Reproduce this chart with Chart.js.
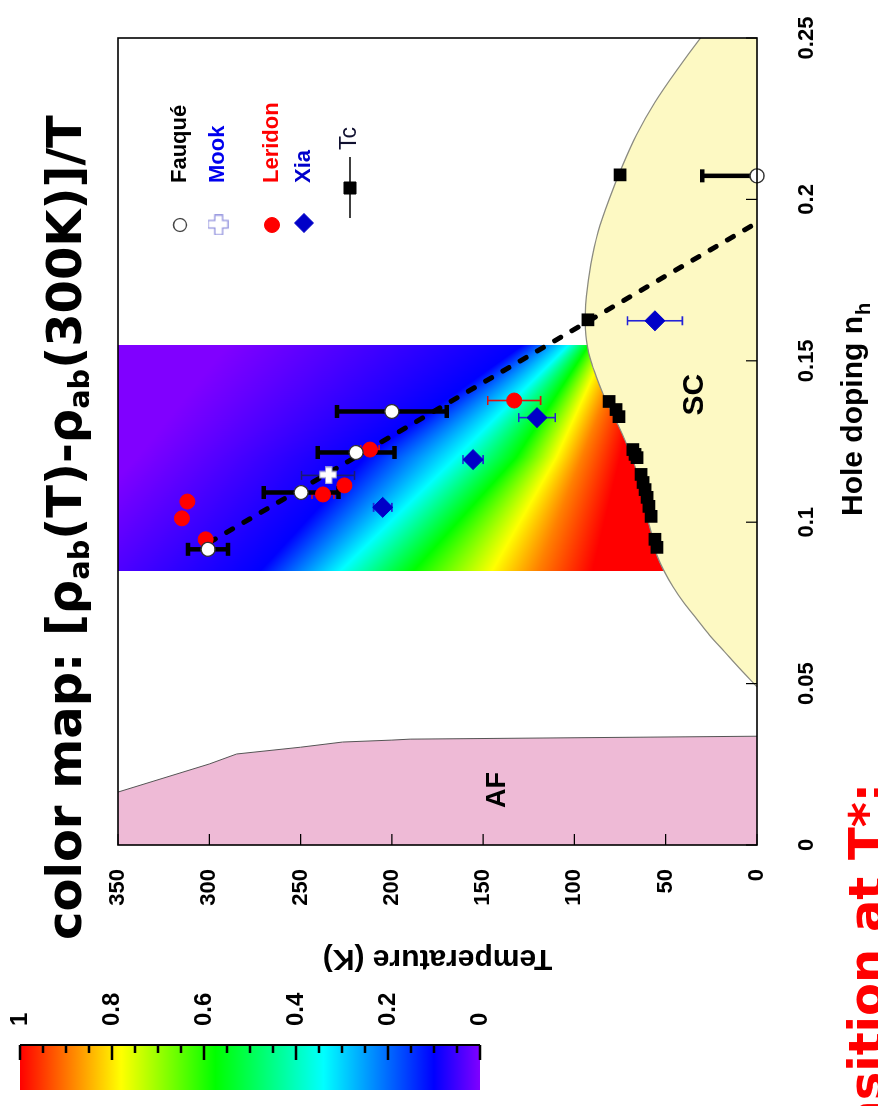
<!DOCTYPE html>
<html>
<head>
<meta charset="utf-8">
<script src="https://cdn.jsdelivr.net/npm/chart.js@4.4.1/dist/chart.umd.min.js"></script>
<style>
  html, body { margin: 0; padding: 0; background: #fff; overflow: hidden; }
  #page {
    position: absolute; left: 0; top: 0; width: 1106px; height: 878px;
    transform-origin: 0 0; transform: translate(0px, 1106px) rotate(-90deg);
    background: #fff; overflow: hidden;
  }
  canvas { position: absolute; left: 0; top: 0; }
  .big {
    position: absolute; white-space: nowrap; line-height: 1;
    font-family: "DejaVu Sans", sans-serif; font-weight: bold; font-size: 48px;
  }
  .big sub { font-size: 0.6em; vertical-align: -0.28em; }
  #mapTitle { left: 166px; top: 40px; color: #000; }
  #note { right: 783px; top: 842px; color: #ff0000; }
</style>
</head>
<body>
<div id="page">
  <canvas id="phase" width="1106" height="878"></canvas>
  <canvas id="bar" width="140" height="500"></canvas>
  <div class="big" id="mapTitle">color map: [ρ<sub>ab</sub>(T)-ρ<sub>ab</sub>(300K)]/T</div>
  <div class="big" id="note">Phase transition at T*:</div>
</div>
<script>
// ---- data ----
const dopingTicks = [0, 0.05, 0.1, 0.15, 0.2, 0.25];
const tempTicks = [0, 50, 100, 150, 200, 250, 300, 350];

const fauqueDoping = [0.0916, 0.1092, 0.1216, 0.1343, 0.2073];
const fauqueT = [300.7, 249.7, 219.6, 200, 0];
const fauqueErr = [11, 20.5, 21, 30, 30];

const mookDoping = [0.1145];
const mookT = [235];
const mookErr = [14.5];

const leridonDoping = [0.1064, 0.1012, 0.0947, 0.1086, 0.1114, 0.1225, 0.1377];
const leridonT = [312, 315, 302, 237.7, 226, 212, 133];
const leridonErr = [0, 0, 0, 6, 0, 5, 14.5];

const xiaDoping = [0.1046, 0.1194, 0.1324, 0.1624];
const xiaT = [205, 155.5, 120.5, 55.9];
const xiaErr = [5, 5.5, 10, 15];

const tcDoping = [0.0922, 0.0947, 0.1018, 0.1049, 0.1077, 0.1101, 0.1123, 0.1148,
                  0.12, 0.121, 0.1225, 0.1327, 0.1349, 0.1374, 0.1627, 0.2076];
const tcT = [54.8, 55.9, 58, 59.2, 60.2, 61.3, 62.4, 63.5,
             65.7, 66.8, 68, 75.6, 77.2, 81, 92.6, 75];

const dashDoping = [0.0937, 0.1928];
const dashT = [300, 0];

const domeDoping = [0.049, 0.055, 0.06, 0.065, 0.07, 0.075, 0.08, 0.085, 0.09, 0.095,
                    0.10, 0.105, 0.11, 0.115, 0.12, 0.125, 0.13, 0.135, 0.14, 0.145,
                    0.15, 0.155, 0.16, 0.165, 0.17, 0.18, 0.19, 0.20, 0.21, 0.22,
                    0.23, 0.24, 0.25, 0.26];
const domeT = [0, 10, 18, 26, 33, 40, 46, 51, 55, 57,
               59.5, 61.5, 63, 65.5, 68.5, 72, 76, 80.5, 84.5, 88,
               91, 93, 94, 94, 93.5, 91, 87, 81, 74, 66,
               56, 44, 31, 17];

const afDoping = [0, 0.0164, 0.0251, 0.0282, 0.0303, 0.0319, 0.0325, 0.0328, 0.0337];
const afT = [350, 350, 300, 285, 250, 227, 200, 190, 0];

// colour map: temperature of each colour level in three doping columns
const mapDoping = [0.085, 0.12, 0.155];
const mapLevels = [0, 0.1, 0.34, 0.575, 0.78, 0.89, 1];
const mapColors = ['#8000ff', '#0000ff', '#00ffff', '#00ff00', '#ffff00', '#ff8000', '#ff0000'];
const mapIsoT = [
  [400, 272, 228, 188, 145, 120, 90],
  [340, 215, 165, 132, 110, 96, 75],
  [290, 128, 103, 92, 82, 72, 60]
];

const barTicks = [0, 0.05, 0.1, 0.15, 0.2, 0.25, 0.3, 0.35, 0.4, 0.45, 0.5,
                  0.55, 0.6, 0.65, 0.7, 0.75, 0.8, 0.85, 0.9, 0.95, 1];
const barLabels = [0, 0.2, 0.4, 0.6, 0.8, 1];

const scLabel = { x: 0.1395, y: 34 };
const afLabel = { x: 0.017, y: 142 };

// ---- helpers ----
const FONT = "'Liberation Sans', Arial, sans-serif";
const pts = (xs, ys) => xs.map((x, i) => ({ x, y: ys[i] }));

function makeCross(size, fill, stroke) {
  const c = document.createElement('canvas');
  c.width = size; c.height = size;
  const g = c.getContext('2d');
  const t = size * 0.36, a = (size - t) / 2, o = 0.75, s = size - 1.5;
  g.beginPath();
  g.moveTo(o + a, o); g.lineTo(o + a + t, o); g.lineTo(o + a + t, o + a);
  g.lineTo(o + s, o + a); g.lineTo(o + s, o + a + t); g.lineTo(o + a + t, o + a + t);
  g.lineTo(o + a + t, o + s); g.lineTo(o + a, o + s); g.lineTo(o + a, o + a + t);
  g.lineTo(o, o + a + t); g.lineTo(o, o + a); g.lineTo(o + a, o + a);
  g.closePath();
  g.fillStyle = fill; g.fill();
  g.lineWidth = 1.2; g.strokeStyle = stroke; g.stroke();
  return c;
}
const crossPlot = makeCross(18, '#ffffff', '#9a9ad0');
const crossLegend = makeCross(21, '#ffffff', '#8c8cdc');

// ---- plugins ----
const colormapPlugin = {
  id: 'colormap',
  beforeDatasetsDraw(chart) {
    const { ctx, chartArea, scales: { x, y } } = chart;
    ctx.save();
    ctx.beginPath();
    ctx.rect(chartArea.left, chartArea.top, chartArea.width, chartArea.height);
    ctx.clip();
    const top = chartArea.top, bottom = chartArea.bottom;
    const x0 = Math.round(x.getPixelForValue(mapDoping[0]));
    const x1 = Math.round(x.getPixelForValue(mapDoping[mapDoping.length - 1]));
    for (let px = x0; px < x1; px++) {
      const n = x.getValueForPixel(px + 0.5);
      let i = 0;
      while (i < mapDoping.length - 2 && n > mapDoping[i + 1]) i++;
      const f = (n - mapDoping[i]) / (mapDoping[i + 1] - mapDoping[i]);
      // gradient spans the whole level range so off-chart levels still blend in
      const tHi = mapIsoT[i][0] + f * (mapIsoT[i + 1][0] - mapIsoT[i][0]);
      const gTop = Math.min(top, y.getPixelForValue(tHi));
      const g = ctx.createLinearGradient(0, gTop, 0, bottom);
      for (let k = 0; k < mapLevels.length; k++) {
        const t = mapIsoT[i][k] + f * (mapIsoT[i + 1][k] - mapIsoT[i][k]);
        const off = Math.min(1, Math.max(0, (y.getPixelForValue(t) - gTop) / (bottom - gTop)));
        g.addColorStop(off, mapColors[k]);
      }
      ctx.fillStyle = g;
      ctx.fillRect(px, top, 1, bottom - top);
    }
    ctx.restore();
  }
};

const errorBarPlugin = {
  id: 'errorBars',
  beforeDatasetDraw(chart, args) {
    if (chart.data.datasets[args.index].label !== 'Tc') return;
    const { ctx, chartArea, scales: { x, y } } = chart;
    ctx.save();
    ctx.beginPath();
    ctx.rect(chartArea.left, chartArea.top, chartArea.width, chartArea.height);
    ctx.clip();
    chart.data.datasets.forEach((ds) => {
      if (!ds.errT) return;
      ctx.strokeStyle = ds.errColor;
      ctx.lineWidth = ds.errWidth;
      ds.data.forEach((p, i) => {
        const e = ds.errT[i];
        if (!e) return;
        const px = x.getPixelForValue(p.x);
        const y1 = y.getPixelForValue(p.y - e);
        const y2 = y.getPixelForValue(p.y + e);
        ctx.beginPath();
        ctx.moveTo(px, y1); ctx.lineTo(px, y2);
        ctx.moveTo(px - ds.capW / 2, y1); ctx.lineTo(px + ds.capW / 2, y1);
        ctx.moveTo(px - ds.capW / 2, y2); ctx.lineTo(px + ds.capW / 2, y2);
        ctx.stroke();
      });
    });
    ctx.restore();
  }
};

function drawSym(ctx, style, r, fill, stroke, bw, px, py) {
  ctx.save();
  ctx.fillStyle = fill; ctx.strokeStyle = stroke; ctx.lineWidth = bw;
  Chart.helpers.drawPoint(ctx, { pointStyle: style, radius: r, borderWidth: bw, rotation: 0 }, px, py);
  ctx.restore();
}

const framePlugin = {
  id: 'frame',
  afterDatasetsDraw(chart) {
    const { ctx, chartArea: a, scales: { x, y } } = chart;
    ctx.save();
    ctx.strokeStyle = '#000';
    ctx.lineWidth = 1.2;
    ctx.beginPath();
    dopingTicks.forEach((v) => {
      const px = x.getPixelForValue(v);
      ctx.moveTo(px, a.bottom); ctx.lineTo(px, a.bottom - 11);
    });
    tempTicks.forEach((v) => {
      const py = y.getPixelForValue(v);
      ctx.moveTo(a.left, py); ctx.lineTo(a.left + 11, py);
    });
    ctx.stroke();
    ctx.lineWidth = 1.6;
    ctx.strokeRect(a.left, a.top, a.width, a.height);

    // region labels
    ctx.fillStyle = '#000';
    ctx.textAlign = 'center';
    ctx.textBaseline = 'middle';
    ctx.font = 'bold 30px ' + FONT;
    ctx.fillText('SC', x.getPixelForValue(scLabel.x), y.getPixelForValue(scLabel.y));
    ctx.font = 'bold 27px ' + FONT;
    ctx.fillText('AF', x.getPixelForValue(afLabel.x), y.getPixelForValue(afLabel.y));

    // x axis title with subscript
    ctx.textAlign = 'left';
    ctx.textBaseline = 'alphabetic';
    ctx.font = 'bold 30px ' + FONT;
    const t1 = 'Hole doping n';
    const sx = 590;
    ctx.fillText(t1, sx, 862);
    const w1 = ctx.measureText(t1).width;
    ctx.font = 'bold 20px ' + FONT;
    ctx.fillText('h', sx + w1 + 1, 870);
    ctx.restore();

    // legend
    ctx.save();
    const symU = 881, textU = 923;
    drawSym(ctx, 'circle', 6.5, '#ffffff', '#444', 1.3, symU, 180);
    drawSym(ctx, crossLegend, 10, '#fff', '#fff', 0, symU, 218);
    drawSym(ctx, 'circle', 7.5, '#ff0000', '#ff0000', 1, symU, 272);
    drawSym(ctx, 'rectRot', 9.5, '#0000c8', '#0000c8', 1, symU + 2, 304);
    ctx.strokeStyle = '#000'; ctx.lineWidth = 1.5;
    ctx.beginPath(); ctx.moveTo(888, 350); ctx.lineTo(949, 350); ctx.stroke();
    drawSym(ctx, 'rect', 8.5, '#000', '#000', 1, 918, 350);
    ctx.textAlign = 'left'; ctx.textBaseline = 'middle';
    ctx.font = 'bold 22px ' + FONT;
    [['Fauqué', '#000000', 180], ['Mook', '#0000ee', 218], ['Leridon', '#ff0000', 272], ['Xia', '#0000cc', 304]]
      .forEach(([t, c, v]) => { ctx.fillStyle = c; ctx.fillText(t, textU, v); });
    ctx.font = '23px ' + FONT;
    ctx.fillStyle = '#101030';
    ctx.fillText('Tc', 956, 350);
    ctx.restore();
  }
};

// ---- main chart ----
new Chart(document.getElementById('phase'), {
  type: 'scatter',
  data: {
    datasets: [
      {
        label: 'AF fill', type: 'line', data: pts(afDoping, afT), order: 11,
        fill: 'origin', backgroundColor: '#eebad6', borderWidth: 0, borderColor: 'rgba(0,0,0,0)',
        pointRadius: 0, tension: 0
      },
      {
        label: 'AF', type: 'line', data: pts(afDoping.slice(1), afT.slice(1)), order: 10,
        fill: false, borderColor: '#555', borderWidth: 1, pointRadius: 0, tension: 0
      },
      {
        label: 'SC', type: 'line', data: pts(domeDoping, domeT), order: 9,
        fill: 'origin', backgroundColor: '#fdf9c3', borderColor: '#8a8a80', borderWidth: 1.2,
        pointRadius: 0, cubicInterpolationMode: 'monotone', clip: false
      },
      {
        label: 'T* line', type: 'line', data: pts(dashDoping, dashT), order: 8,
        fill: false, borderColor: '#000', borderWidth: 5, borderDash: [7, 13],
        borderCapStyle: 'round', pointRadius: 0
      },
      {
        label: 'Tc', data: pts(tcDoping, tcT), order: 5,
        pointStyle: 'rect', pointRadius: 9, backgroundColor: '#000', borderColor: '#000', borderWidth: 0
      },
      {
        label: 'Xia', data: pts(xiaDoping, xiaT), order: 4,
        pointStyle: 'rectRot', pointRadius: 10, backgroundColor: '#0000c8', borderColor: '#0000c8', borderWidth: 1,
        errT: xiaErr, errColor: '#2323d8', errWidth: 1.6, capW: 9
      },
      {
        label: 'Leridon', data: pts(leridonDoping, leridonT), order: 3,
        pointStyle: 'circle', pointRadius: 7.5, backgroundColor: '#ff0000', borderColor: '#ff0000', borderWidth: 1,
        errT: leridonErr, errColor: '#e01010', errWidth: 1.6, capW: 9
      },
      {
        label: 'Mook', data: pts(mookDoping, mookT), order: 2,
        pointStyle: crossPlot, pointRadius: 9, borderWidth: 0,
        errT: mookErr, errColor: '#1a1a70', errWidth: 1.6, capW: 9
      },
      {
        label: 'Fauqué', data: pts(fauqueDoping, fauqueT), order: 1, clip: false,
        pointStyle: 'circle', pointRadius: 7, backgroundColor: '#ffffff', borderColor: '#333', borderWidth: 1.3,
        errT: fauqueErr, errColor: '#000', errWidth: 4.5, capW: 13
      }
    ]
  },
  options: {
    responsive: false,
    animation: false,
    layout: { padding: { left: 126, top: 118, right: 38, bottom: 0 } },
    plugins: { legend: { display: false }, tooltip: { enabled: false } },
    scales: {
      x: {
        type: 'linear', min: 0, max: 0.25,
        afterBuildTicks: (s) => { s.ticks = dopingTicks.map((v) => ({ value: v })); },
        afterFit: (s) => { s.height = 121; s.paddingLeft = 0; s.paddingRight = 0; },
        grid: { display: false, drawTicks: false },
        border: { display: false },
        ticks: { padding: 37, color: '#000', font: { family: FONT, size: 22, weight: 'bold' }, callback: (v) => String(v) }
      },
      y: {
        type: 'linear', min: 0, max: 350,
        afterBuildTicks: (s) => { s.ticks = tempTicks.map((v) => ({ value: v })); },
        afterFit: (s) => { s.width = 135; s.paddingTop = 0; s.paddingBottom = 0; },
        grid: { display: false, drawTicks: false },
        border: { display: false },
        ticks: { padding: 24, color: '#000', font: { family: FONT, size: 22, weight: 'bold' }, callback: (v) => String(v) },
        title: { display: true, text: 'Temperature (K)', color: '#000', padding: { top: 4, bottom: 0 },
                 font: { family: FONT, size: 30, weight: 'bold' } }
      }
    }
  },
  plugins: [colormapPlugin, errorBarPlugin, framePlugin]
});

// ---- colour bar ----
const barTickPlugin = {
  id: 'barTicks',
  afterDraw(chart) {
    const { ctx, chartArea: a, scales: { y } } = chart;
    ctx.save();
    ctx.strokeStyle = '#000';
    ctx.lineWidth = 2.5;
    ctx.beginPath();
    barTicks.forEach((v) => {
      const py = y.getPixelForValue(v);
      const major = barLabels.some((b) => Math.abs(b - v) < 1e-6);
      ctx.moveTo(a.right, py); ctx.lineTo(a.right - (major ? 15 : 8), py);
    });
    ctx.stroke();
    ctx.lineWidth = 2;
    ctx.beginPath(); ctx.moveTo(a.right, a.top); ctx.lineTo(a.right, a.bottom); ctx.stroke();
    ctx.restore();
  }
};

new Chart(document.getElementById('bar'), {
  type: 'bar',
  data: {
    labels: [''],
    datasets: [{
      data: [[0, 1]],
      borderWidth: 0,
      barPercentage: 1,
      categoryPercentage: 1,
      backgroundColor: (c) => {
        const a = c.chart.chartArea;
        if (!a) return '#ccc';
        const g = c.chart.ctx.createLinearGradient(0, a.bottom, 0, a.top);
        mapLevels.forEach((v, i) => g.addColorStop(v, mapColors[i]));
        return g;
      }
    }]
  },
  options: {
    responsive: false,
    animation: false,
    layout: { padding: { left: 16, top: 20, bottom: 20, right: 0 } },
    plugins: { legend: { display: false }, tooltip: { enabled: false } },
    scales: {
      x: { display: false },
      y: {
        position: 'right', min: 0, max: 1,
        afterBuildTicks: (s) => { s.ticks = barTicks.map((v) => ({ value: v })); },
        afterFit: (s) => { s.width = 79; s.paddingTop = 0; s.paddingBottom = 0; },
        grid: { display: false, drawTicks: false },
        border: { display: false },
        ticks: {
          autoSkip: false, padding: 19, color: '#000',
          font: { family: FONT, size: 24, weight: 'bold' },
          callback: (v) => (barLabels.some((b) => Math.abs(b - v) < 1e-6) ? String(+v.toFixed(1)) : '')
        }
      }
    }
  },
  plugins: [barTickPlugin]
});
</script>
</body>
</html>
